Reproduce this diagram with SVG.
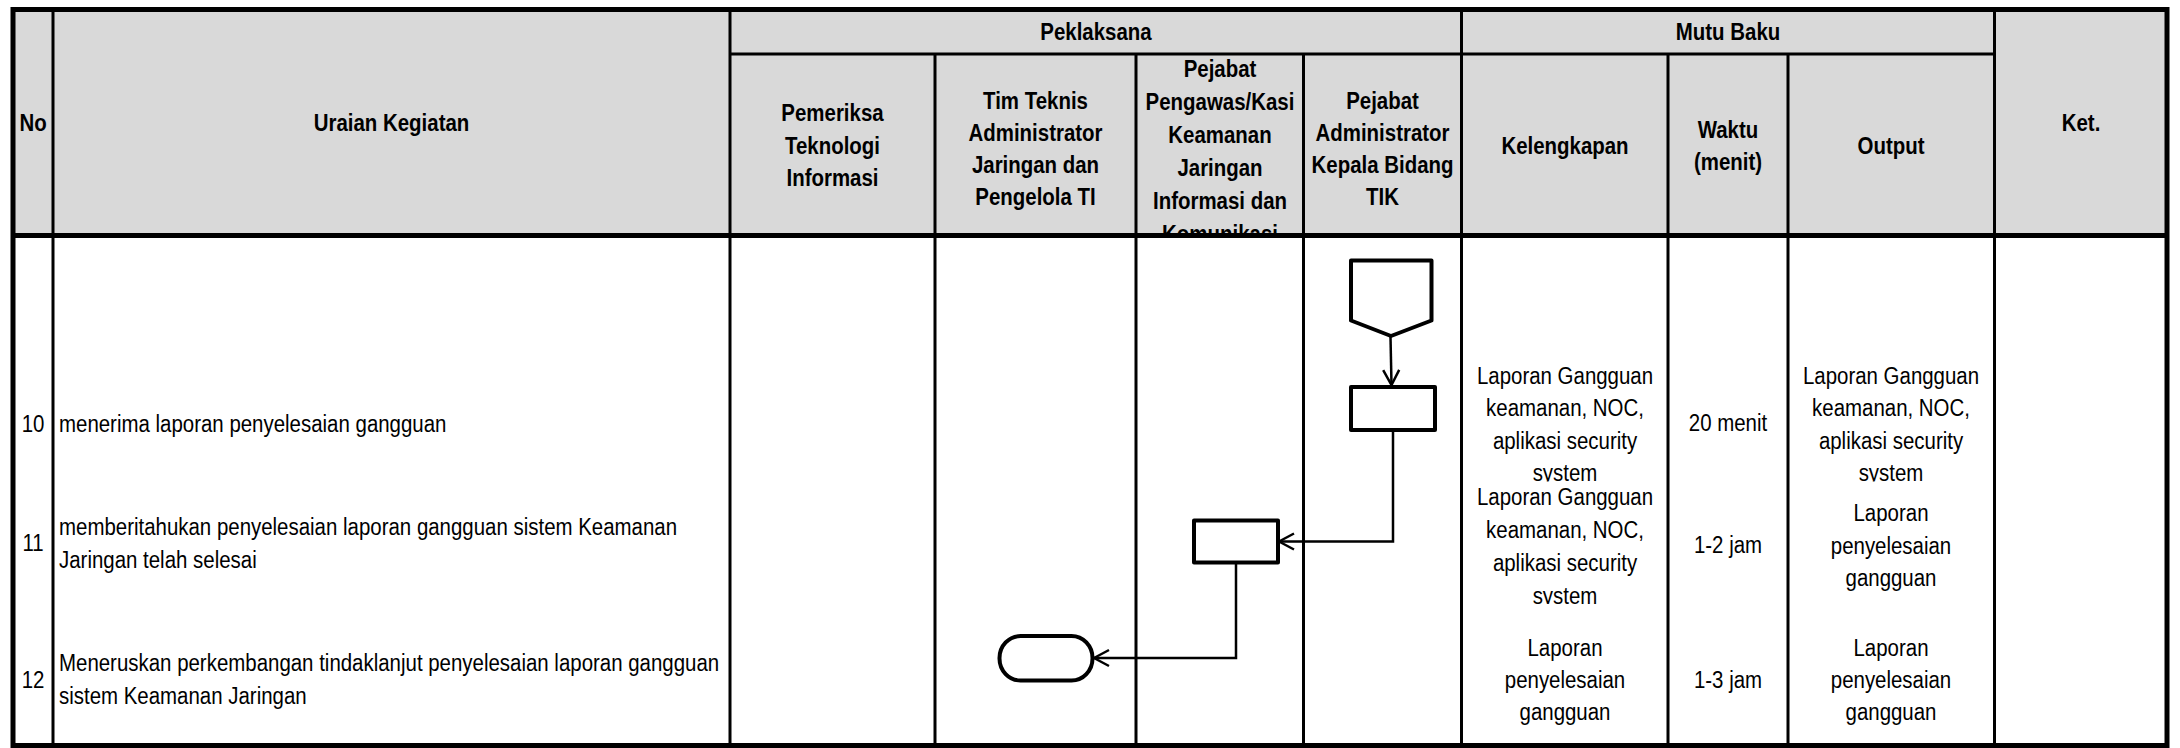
<svg xmlns="http://www.w3.org/2000/svg" width="2180" height="748" viewBox="0 0 2180 748">
<style>
  text { font-family: "Liberation Sans", Arial, sans-serif; font-size: 24.5px; fill: #000; }
  .h { font-weight: bold; text-anchor: middle; }
  .c { text-anchor: middle; }
  .l { text-anchor: start; }
  .grid { stroke: #000; stroke-width: 3; fill: none; }
  .thick { stroke: #000; stroke-width: 5; fill: none; }
  .shape { fill: #fff; stroke: #000; stroke-width: 4; stroke-linejoin: round; }
  .conn { fill: none; stroke: #000; stroke-width: 2.5; }
</style>
<defs>
  <marker id="arr" markerUnits="userSpaceOnUse" viewBox="-17 -10 19 20" refX="0" refY="0" markerWidth="19" markerHeight="20" orient="auto">
    <path d="M-15,-8 L0,0 L-15,8" fill="none" stroke="#000" stroke-width="2.5" stroke-linejoin="miter"/>
  </marker>
  <clipPath id="cR10"><rect x="1462" y="236" width="532" height="245.5"/></clipPath>
  <clipPath id="cR11"><rect x="1462" y="481.5" width="532" height="122.5"/></clipPath>
  <clipPath id="cHead"><rect x="13" y="9" width="2154" height="227"/></clipPath>
</defs>
<rect x="0" y="0" width="2180" height="748" fill="#fff"/>

<g id="table">
  <rect x="13" y="9.5" width="2154" height="226" fill="#D9D9D9"/>
  <g id="header-text" clip-path="url(#cHead)">
    <text class="h" transform="matrix(0.835 0 0 1 33 131)">No</text>
    <text class="h" transform="matrix(0.835 0 0 1 391.5 131)">Uraian Kegiatan</text>
    <text class="h" transform="matrix(0.835 0 0 1 1096 40)">Peklaksana</text>
    <text class="h" transform="matrix(0.835 0 0 1 1728 40)">Mutu Baku</text>
    <text class="h" transform="matrix(0.835 0 0 1 2081 131)">Ket.</text>
    <text class="h" transform="matrix(0.835 0 0 1 832.5 121)">Pemeriksa</text>
    <text class="h" transform="matrix(0.835 0 0 1 832.5 153.5)">Teknologi</text>
    <text class="h" transform="matrix(0.835 0 0 1 832.5 186)">Informasi</text>
    <text class="h" transform="matrix(0.835 0 0 1 1035.5 109)">Tim Teknis</text>
    <text class="h" transform="matrix(0.835 0 0 1 1035.5 141)">Administrator</text>
    <text class="h" transform="matrix(0.835 0 0 1 1035.5 173)">Jaringan dan</text>
    <text class="h" transform="matrix(0.835 0 0 1 1035.5 205)">Pengelola TI</text>
    <text class="h" transform="matrix(0.835 0 0 1 1220 77)">Pejabat</text>
    <text class="h" transform="matrix(0.835 0 0 1 1220 110)">Pengawas/Kasi</text>
    <text class="h" transform="matrix(0.835 0 0 1 1220 143)">Keamanan</text>
    <text class="h" transform="matrix(0.835 0 0 1 1220 176)">Jaringan</text>
    <text class="h" transform="matrix(0.835 0 0 1 1220 209)">Informasi dan</text>
    <text class="h" transform="matrix(0.835 0 0 1 1220 242)">Komunikasi</text>
    <text class="h" transform="matrix(0.835 0 0 1 1382.5 109)">Pejabat</text>
    <text class="h" transform="matrix(0.835 0 0 1 1382.5 141)">Administrator</text>
    <text class="h" transform="matrix(0.835 0 0 1 1382.5 173)">Kepala Bidang</text>
    <text class="h" transform="matrix(0.835 0 0 1 1382.5 205)">TIK</text>
    <text class="h" transform="matrix(0.835 0 0 1 1565 154)">Kelengkapan</text>
    <text class="h" transform="matrix(0.835 0 0 1 1728 138)">Waktu</text>
    <text class="h" transform="matrix(0.835 0 0 1 1728 170)">(menit)</text>
    <text class="h" transform="matrix(0.835 0 0 1 1891 154)">Output</text>
  </g>

  <g id="body-text">
    <text class="c" transform="matrix(0.835 0 0 1 33 432)">10</text>
    <text class="l" transform="matrix(0.835 0 0 1 59 432)">menerima laporan penyelesaian gangguan</text>
    <text class="c" transform="matrix(0.835 0 0 1 33 551)">11</text>
    <text class="l" transform="matrix(0.835 0 0 1 59 535)">memberitahukan penyelesaian laporan gangguan sistem Keamanan</text>
    <text class="l" transform="matrix(0.835 0 0 1 59 568)">Jaringan telah selesai</text>
    <text class="c" transform="matrix(0.835 0 0 1 33 688)">12</text>
    <text class="l" transform="matrix(0.835 0 0 1 59 671)">Meneruskan perkembangan tindaklanjut penyelesaian laporan gangguan</text>
    <text class="l" transform="matrix(0.835 0 0 1 59 704)">sistem Keamanan Jaringan</text>

    <g clip-path="url(#cR10)">
      <text class="c" transform="matrix(0.835 0 0 1 1565 383.5)">Laporan Gangguan</text>
      <text class="c" transform="matrix(0.835 0 0 1 1565 416)">keamanan, NOC,</text>
      <text class="c" transform="matrix(0.835 0 0 1 1565 448.5)">aplikasi security</text>
      <text class="c" transform="matrix(0.835 0 0 1 1565 481)">system</text>
      <text class="c" transform="matrix(0.835 0 0 1 1891 383.5)">Laporan Gangguan</text>
      <text class="c" transform="matrix(0.835 0 0 1 1891 416)">keamanan, NOC,</text>
      <text class="c" transform="matrix(0.835 0 0 1 1891 448.5)">aplikasi security</text>
      <text class="c" transform="matrix(0.835 0 0 1 1891 481)">system</text>
    </g>
    <text class="c" transform="matrix(0.835 0 0 1 1728 431)">20 menit</text>

    <g clip-path="url(#cR11)">
      <text class="c" transform="matrix(0.835 0 0 1 1565 505)">Laporan Gangguan</text>
      <text class="c" transform="matrix(0.835 0 0 1 1565 538)">keamanan, NOC,</text>
      <text class="c" transform="matrix(0.835 0 0 1 1565 570.5)">aplikasi security</text>
      <text class="c" transform="matrix(0.835 0 0 1 1565 603.5)">system</text>
    </g>
    <text class="c" transform="matrix(0.835 0 0 1 1728 553)">1-2 jam</text>
    <text class="c" transform="matrix(0.835 0 0 1 1891 521)">Laporan</text>
    <text class="c" transform="matrix(0.835 0 0 1 1891 554)">penyelesaian</text>
    <text class="c" transform="matrix(0.835 0 0 1 1891 586)">gangguan</text>

    <text class="c" transform="matrix(0.835 0 0 1 1565 656)">Laporan</text>
    <text class="c" transform="matrix(0.835 0 0 1 1565 688)">penyelesaian</text>
    <text class="c" transform="matrix(0.835 0 0 1 1565 720)">gangguan</text>
    <text class="c" transform="matrix(0.835 0 0 1 1728 688)">1-3 jam</text>
    <text class="c" transform="matrix(0.835 0 0 1 1891 656)">Laporan</text>
    <text class="c" transform="matrix(0.835 0 0 1 1891 688)">penyelesaian</text>
    <text class="c" transform="matrix(0.835 0 0 1 1891 720)">gangguan</text>
  </g>

  <g id="grid-lines">
    <line class="grid" x1="730" y1="54" x2="1994.5" y2="54"/>
    <line class="grid" x1="53" y1="9.5" x2="53" y2="745.5"/>
    <line class="grid" x1="730" y1="9.5" x2="730" y2="745.5"/>
    <line class="grid" x1="935" y1="54" x2="935" y2="745.5"/>
    <line class="grid" x1="1136" y1="54" x2="1136" y2="745.5"/>
    <line class="grid" x1="1303.5" y1="54" x2="1303.5" y2="745.5"/>
    <line class="grid" x1="1461.5" y1="9.5" x2="1461.5" y2="745.5"/>
    <line class="grid" x1="1668" y1="54" x2="1668" y2="745.5"/>
    <line class="grid" x1="1788" y1="54" x2="1788" y2="745.5"/>
    <line class="grid" x1="1994.5" y1="9.5" x2="1994.5" y2="745.5"/>
    <line class="thick" x1="13" y1="235.5" x2="2167" y2="235.5"/>
    <rect class="thick" x="13" y="9.5" width="2154" height="736"/>
  </g>
</g>

<g id="connectors">
  <path class="conn" d="M1390.5,337 L1391.5,385" marker-end="url(#arr)"/>
  <path class="conn" d="M1393,430 L1393,541.5 L1279,541.5" marker-end="url(#arr)"/>
  <path class="conn" d="M1236,563 L1236,658 L1094,658" marker-end="url(#arr)"/>
</g>

<g id="n-start">
  <polygon class="shape" points="1351,260.5 1431.5,260.5 1431.5,320.5 1391,336 1351,320.5"/>
</g>
<g id="n-receive">
  <rect class="shape" x="1351" y="387" width="84" height="43"/>
</g>
<g id="n-notify">
  <rect class="shape" x="1194" y="520.5" width="84" height="42"/>
</g>
<g id="n-end">
  <rect class="shape" x="999.5" y="636" width="93" height="44.5" rx="21" ry="22"/>
</g>
</svg>
